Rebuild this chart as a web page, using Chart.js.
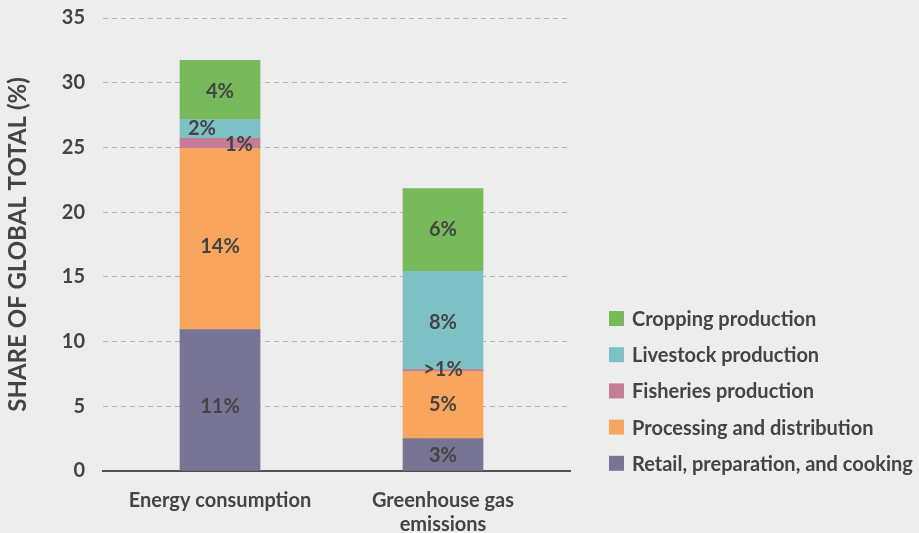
<!DOCTYPE html>
<html>
<head>
<meta charset="utf-8">
<script src="https://cdn.jsdelivr.net/npm/chart.js@4/dist/chart.umd.min.js"></script>
<style>
  html, body { margin: 0; padding: 0; background: #ededed; }
  #wrap { width: 919px; height: 533px; }
</style>
</head>
<body>
<div id="wrap"><canvas id="chart" width="919" height="533"></canvas></div>
<script>
// Categories (x axis) and y ticks
const categories = ['Energy consumption', ['Greenhouse gas', 'emissions']];
const yTicks = [0, 5, 10, 15, 20, 25, 30, 35];

// Series values, bottom of the stack first (share of global total, %)
const retail = [10.93, 2.51];
const processing = [13.99, 5.18];
const fisheries = [0.78, 0.15];
const livestock = [1.46, 7.58];
const cropping = [4.56, 6.41];

// Text printed inside each segment
const retailText = ['11%', '3%'];
const processingText = ['14%', '5%'];
const fisheriesText = ['1%', '>1%'];
const livestockText = ['2%', '8%'];
const croppingText = ['4%', '6%'];

const TEXT = '#444444';
const FONT = 'Lato';

// Small nudges for labels that sit off-centre in the original
const labelNudge = {
  retail: [[0, 7], [0, 1]],
  processing: [[0, 8], [0, 0]],
  fisheries: [[19, 1], [0, -1]],
  livestock: [[-18, 0], [0, 2]],
  cropping: [[0, 2], [0, 0]]
};

function series(label, data, text, nudge, color) {
  return {
    label: label,
    data: data,
    valueLabels: text,
    labelOffsets: nudge,
    backgroundColor: color,
    borderWidth: 0,
    barThickness: 80
  };
}

// Draws the percentage text on each stacked segment
const barLabels = {
  id: 'barLabels',
  afterDatasetsDraw(chart) {
    const ctx = chart.ctx;
    ctx.save();
    ctx.font = 'bold 20px ' + FONT;
    ctx.fillStyle = TEXT;
    ctx.textAlign = 'center';
    ctx.textBaseline = 'middle';
    chart.data.datasets.forEach((ds, i) => {
      chart.getDatasetMeta(i).data.forEach((bar, j) => {
        const off = ds.labelOffsets[j];
        ctx.fillText(ds.valueLabels[j], bar.x + off[0], (bar.y + bar.base) / 2 + off[1]);
      });
    });
    ctx.restore();
  }
};

// Legend at the lower right, top item = top of the stack
const sideLegend = {
  id: 'sideLegend',
  afterDraw(chart) {
    const ctx = chart.ctx;
    ctx.save();
    ctx.font = 'bold 20px ' + FONT;
    ctx.textBaseline = 'middle';
    ctx.textAlign = 'left';
    const items = chart.data.datasets.slice().reverse();
    items.forEach((ds, k) => {
      const y = 318.5 + k * 36.2;
      ctx.fillStyle = ds.backgroundColor;
      ctx.fillRect(609, y - 7.5, 15, 15);
      ctx.fillStyle = TEXT;
      ctx.fillText(ds.label, 632, y + 1);
    });
    ctx.restore();
  }
};

new Chart(document.getElementById('chart'), {
  type: 'bar',
  data: {
    labels: categories.map((c, i) => i),
    datasets: [
      series('Retail, preparation, and cooking', retail, retailText, labelNudge.retail, '#777593'),
      series('Processing and distribution', processing, processingText, labelNudge.processing, '#f8a55e'),
      series('Fisheries production', fisheries, fisheriesText, labelNudge.fisheries, '#c67b97'),
      series('Livestock production', livestock, livestockText, labelNudge.livestock, '#7ec1c5'),
      series('Cropping production', cropping, croppingText, labelNudge.cropping, '#77b95b')
    ]
  },
  options: {
    responsive: false,
    animation: false,
    devicePixelRatio: 1,
    layout: { padding: { top: 18, right: 349, bottom: 0, left: 0 } },
    plugins: {
      legend: { display: false },
      tooltip: { enabled: false }
    },
    scales: {
      x: {
        type: 'linear',
        stacked: true,
        offset: false,
        min: -0.5247,
        max: 1.5695,
        afterBuildTicks: (axis) => { axis.ticks = categories.map((c, i) => ({ value: i })); },
        afterFit: (axis) => { axis.height = 62; axis.paddingLeft = 0; axis.paddingRight = 0; },
        grid: { display: false, drawTicks: false, offset: false },
        border: { display: true, color: '#505050', width: 2 },
        ticks: {
          padding: 18,
          color: TEXT,
          autoSkip: false,
          maxRotation: 0,
          font: { family: FONT, weight: 'bold', size: 20, lineHeight: 1.2 },
          callback: (v) => categories[v]
        }
      },
      y: {
        stacked: true,
        min: 0,
        max: 35,
        afterBuildTicks: (axis) => { axis.ticks = yTicks.map(v => ({ value: v })); },
        afterFit: (axis) => { axis.width = 103; axis.paddingTop = 0; axis.paddingBottom = 0; },
        grid: {
          color: (c) => (c.tick && c.tick.value === 0) ? 'rgba(0,0,0,0)' : '#b3b3b3',
          lineWidth: 1,
          drawTicks: false
        },
        border: { display: false, dash: [5, 4] },
        ticks: {
          padding: 18,
          color: TEXT,
          font: { family: FONT, weight: 'bold', size: 20 }
        },
        title: {
          display: true,
          text: 'SHARE OF GLOBAL TOTAL (%)',
          color: TEXT,
          font: { family: FONT, weight: 'bold', size: 24 },
          padding: { top: 4, bottom: 0 }
        }
      }
    }
  },
  plugins: [barLabels, sideLegend]
});
</script>
</body>
</html>
